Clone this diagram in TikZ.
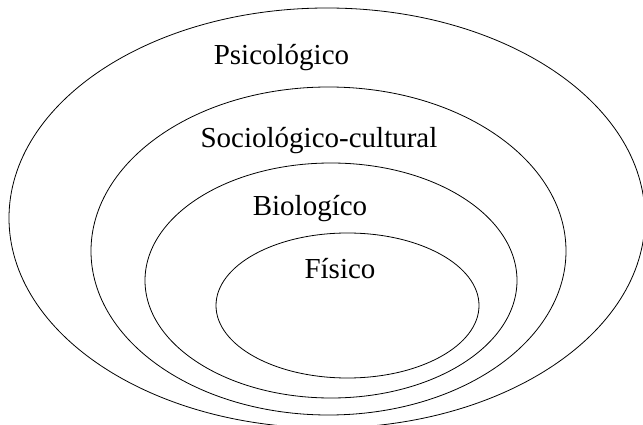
\documentclass[tikz,border=0pt]{standalone}
\usepackage{fontspec}
\setmainfont{Liberation Serif}
\begin{document}
\begin{tikzpicture}[x=1pt,y=-1pt,
  ring/.style={draw=black,line width=0.8pt},
  lbl/.style={anchor=base,inner sep=0pt,font=\fontsize{29}{34}\selectfont}]
\useasboundingbox (0,0) rectangle (643,425);
\clip (0,0) rectangle (643,425);
\draw[ring] (327,218) ellipse [x radius=318pt, y radius=210pt];
\draw[ring] (328.5,251) ellipse [x radius=237.5pt, y radius=164pt];
\draw[ring] (331,280.5) ellipse [x radius=186pt, y radius=117.5pt];
\draw[ring] (347.5,305.5) ellipse [x radius=131.5pt, y radius=72.5pt];
\node[lbl] (psi) at (281.5,65) {Psicológico};
\node[lbl] (soc) at (319,148) {Sociológico-cultural};
\node[lbl] (bio) at (310,215) {Biologíco};
\node[lbl] (fis) at (340,278) {Físico};
\end{tikzpicture}
\end{document}
